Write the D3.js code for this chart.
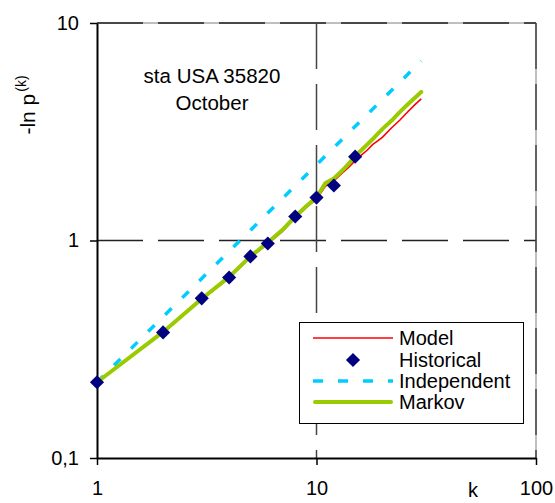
<!DOCTYPE html>
<html>
<head>
<meta charset="utf-8">
<script src="https://cdn.jsdelivr.net/npm/d3@7"></script>
<style>
  body { margin: 0; background: #fff; }
  text { font-family: "Liberation Sans", Arial, sans-serif; }
</style>
</head>
<body>
<div id="chart"></div>
<script>
var svgWidth = 555;
var svgHeight = 503;

// values
var kHist = [1, 2, 3, 4, 5, 6, 8, 10, 12, 15];
var historical = [0.223, 0.378, 0.542, 0.676, 0.845, 0.969, 1.29, 1.575, 1.79, 2.43];

var kLine = [1, 2, 3, 4, 5, 6, 7, 8, 9, 10, 11, 12, 13, 14, 15, 16, 17, 18, 19, 20, 22, 24, 26, 28, 30];
var model = [0.223, 0.376, 0.535, 0.672, 0.835, 0.965, 1.1, 1.27, 1.42, 1.55, 1.78, 1.88, 2.03, 2.17, 2.33,
             2.47, 2.6, 2.76, 2.87, 2.99, 3.3, 3.58, 3.9, 4.2, 4.48];
var markov = [0.223, 0.38, 0.54, 0.68, 0.845, 0.98, 1.12, 1.29, 1.44, 1.58, 1.84, 1.93, 2.08, 2.25, 2.45,
              2.6, 2.76, 2.92, 3.09, 3.26, 3.56, 3.9, 4.22, 4.52, 4.82];

var kInd = [1, 2, 5, 10, 20, 30];
var independent = [0.223, 0.446, 1.115, 2.23, 4.46, 6.69];

var xTicks = [1, 10, 100];
var yTicks = [0.1, 1, 10];
var yTickLabels = ["0,1", "1", "10"];
var seriesNames = ["Model", "Historical", "Independent", "Markov"];

var plot = { left: 97, right: 536, top: 23, bottom: 458 };

var svg = d3.select("#chart")
    .append("svg")
    .attr("width", svgWidth)
    .attr("height", svgHeight);

var x = d3.scaleLog().domain([1, 100]).range([plot.left, plot.right]);
var y = d3.scaleLog().domain([0.1, 10]).range([plot.bottom, plot.top]);

// gridlines (top and right edges sit on a light border)
svg.append("line")
    .attr("x1", plot.left).attr("x2", plot.right)
    .attr("y1", plot.top).attr("y2", plot.top)
    .attr("stroke", "#aaa").attr("stroke-width", 1.5);
svg.append("line")
    .attr("x1", plot.right).attr("x2", plot.right)
    .attr("y1", plot.top).attr("y2", plot.bottom)
    .attr("stroke", "#aaa").attr("stroke-width", 1.5);

svg.selectAll(".hgrid")
    .data(yTicks.slice(1))
    .enter().append("line")
    .attr("class", "hgrid")
    .attr("x1", plot.left).attr("x2", plot.right)
    .attr("y1", d => y(d)).attr("y2", d => y(d))
    .attr("stroke", "#222").attr("stroke-width", 1.5)
    .attr("stroke-dasharray", "46,15");

svg.selectAll(".vgrid")
    .data(xTicks.slice(1))
    .enter().append("line")
    .attr("class", "vgrid")
    .attr("x1", d => x(d)).attr("x2", d => x(d))
    .attr("y1", plot.top).attr("y2", plot.bottom)
    .attr("stroke", "#444").attr("stroke-width", 1.5)
    .attr("stroke-dasharray", "46,15");

// axes
var xAxis = d3.axisBottom(x)
    .tickValues(xTicks)
    .tickFormat(d3.format("d"))
    .tickSize(7)
    .tickSizeOuter(0)
    .tickPadding(16);

var yAxis = d3.axisLeft(y)
    .tickValues(yTicks)
    .tickFormat((d, i) => yTickLabels[i])
    .tickSize(7)
    .tickSizeOuter(0)
    .tickPadding(11);

var gx = svg.append("g")
    .attr("transform", `translate(0,${plot.bottom})`)
    .call(xAxis);
var gy = svg.append("g")
    .attr("transform", `translate(${plot.left},0)`)
    .call(yAxis);

[gx, gy].forEach(function(g) {
    g.select(".domain").attr("stroke", "#000").attr("stroke-width", 2);
    g.selectAll(".tick line").attr("stroke", "#000").attr("stroke-width", 1.5);
    g.selectAll(".tick text")
        .attr("fill", "#000")
        .style("font-family", "'Liberation Sans', Arial, sans-serif")
        .style("font-size", "20px");
});

// axis titles
svg.append("text")
    .attr("x", 473).attr("y", 497)
    .attr("text-anchor", "middle")
    .style("font-size", "20px")
    .text("k");

var yTitle = svg.append("text")
    .attr("transform", "translate(35,105) rotate(-90)")
    .attr("text-anchor", "middle")
    .style("font-size", "21px");
yTitle.append("tspan").text("-ln p");
yTitle.append("tspan").attr("dx", 2).attr("dy", -9).style("font-size", "14px").text("(k)");

// annotation
svg.append("text")
    .attr("x", 212).attr("y", 83)
    .attr("text-anchor", "middle")
    .style("font-size", "20.5px")
    .text("sta USA 35820");
svg.append("text")
    .attr("x", 212).attr("y", 110)
    .attr("text-anchor", "middle")
    .style("font-size", "20.5px")
    .text("October");

// series
var line = d3.line()
    .x(d => x(d[0]))
    .y(d => y(d[1]));

svg.append("path")
    .datum(kInd.map((k, i) => [k, independent[i]]))
    .attr("d", line)
    .attr("fill", "none")
    .attr("stroke", "#00ccff")
    .attr("stroke-width", 3.5)
    .attr("stroke-dasharray", "9,15");

svg.append("path")
    .datum(kLine.map((k, i) => [k, model[i]]))
    .attr("d", line)
    .attr("fill", "none")
    .attr("stroke", "#ff0000")
    .attr("stroke-width", 1.6);

svg.append("path")
    .datum(kLine.map((k, i) => [k, markov[i]]))
    .attr("d", line)
    .attr("fill", "none")
    .attr("stroke", "#99cc00")
    .attr("stroke-width", 4)
    .attr("stroke-linecap", "round")
    .attr("stroke-linejoin", "round");

var diamond = d3.symbol().type(d3.symbolSquare).size(100);

svg.selectAll(".hist")
    .data(kHist.map((k, i) => [k, historical[i]]))
    .enter().append("path")
    .attr("class", "hist")
    .attr("d", diamond)
    .attr("transform", d => `translate(${x(d[0])},${y(d[1])}) rotate(45)`)
    .attr("fill", "#000080");

// legend
var legend = svg.append("g");
legend.append("rect")
    .attr("x", 299.5).attr("y", 322.5)
    .attr("width", 224).attr("height", 101)
    .attr("fill", "#fff")
    .attr("stroke", "#000").attr("stroke-width", 1);

var rowY = [338, 360, 381, 402];

legend.append("line")
    .attr("x1", 313).attr("x2", 393).attr("y1", rowY[0]).attr("y2", rowY[0])
    .attr("stroke", "#ff0000").attr("stroke-width", 1.6);
legend.append("path")
    .attr("d", diamond)
    .attr("transform", `translate(353,${rowY[1]}) rotate(45)`)
    .attr("fill", "#000080");
legend.append("line")
    .attr("x1", 313).attr("x2", 393).attr("y1", rowY[2]).attr("y2", rowY[2])
    .attr("stroke", "#00ccff").attr("stroke-width", 3.5)
    .attr("stroke-dasharray", "10,15");
legend.append("line")
    .attr("x1", 315).attr("x2", 391).attr("y1", rowY[3]).attr("y2", rowY[3])
    .attr("stroke", "#99cc00").attr("stroke-width", 4)
    .attr("stroke-linecap", "round");

legend.selectAll(".ltext")
    .data(seriesNames)
    .enter().append("text")
    .attr("class", "ltext")
    .attr("x", 399)
    .attr("y", (d, i) => rowY[i])
    .attr("dy", "0.36em")
    .style("font-size", "20px")
    .text(d => d);
</script>
</body>
</html>
